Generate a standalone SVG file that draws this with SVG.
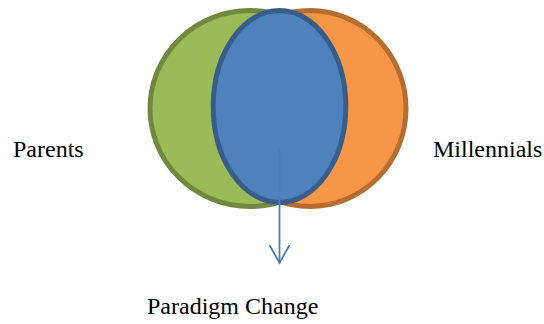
<svg xmlns="http://www.w3.org/2000/svg" width="544" height="324" viewBox="0 0 544 324">
  <style>
    .label { font-family: "Liberation Serif", "Times New Roman", serif; font-size: 24px; fill: #000; }
    .ring { stroke-width: 5; }
  </style>
  <defs>
    <marker id="openArrow" markerWidth="24" markerHeight="24" refX="11" refY="18" orient="0" markerUnits="userSpaceOnUse">
      <path d="M1,0 L11,18 L21,0" fill="none" stroke="#4a7ebb" stroke-width="1.8"/>
    </marker>
  </defs>
  <rect width="544" height="324" fill="#fff"/>
  <g id="parents-set">
    <ellipse class="ring" cx="250" cy="108.5" rx="100" ry="98" fill="#9bbb59" stroke="#71893f"/>
  </g>
  <g id="millennials-set">
    <ellipse class="ring" cx="310" cy="108.5" rx="96" ry="98" fill="#f79646" stroke="#b66d31"/>
  </g>
  <g id="overlap">
    <ellipse class="ring" cx="279.5" cy="106.5" rx="66.3" ry="96" fill="#4f81bd" stroke="#385d8a"/>
  </g>
  <g id="connectors">
    <line x1="279.5" y1="148" x2="279.5" y2="263" stroke="#4a7ebb" stroke-width="1.8" marker-end="url(#openArrow)"/>
  </g>
  <g id="label-parents">
    <text class="label" x="13" y="157">Parents</text>
  </g>
  <g id="label-millennials">
    <text class="label" x="433" y="157">Millennials</text>
  </g>
  <g id="label-paradigm">
    <text class="label" x="147" y="314">Paradigm Change</text>
  </g>
</svg>
